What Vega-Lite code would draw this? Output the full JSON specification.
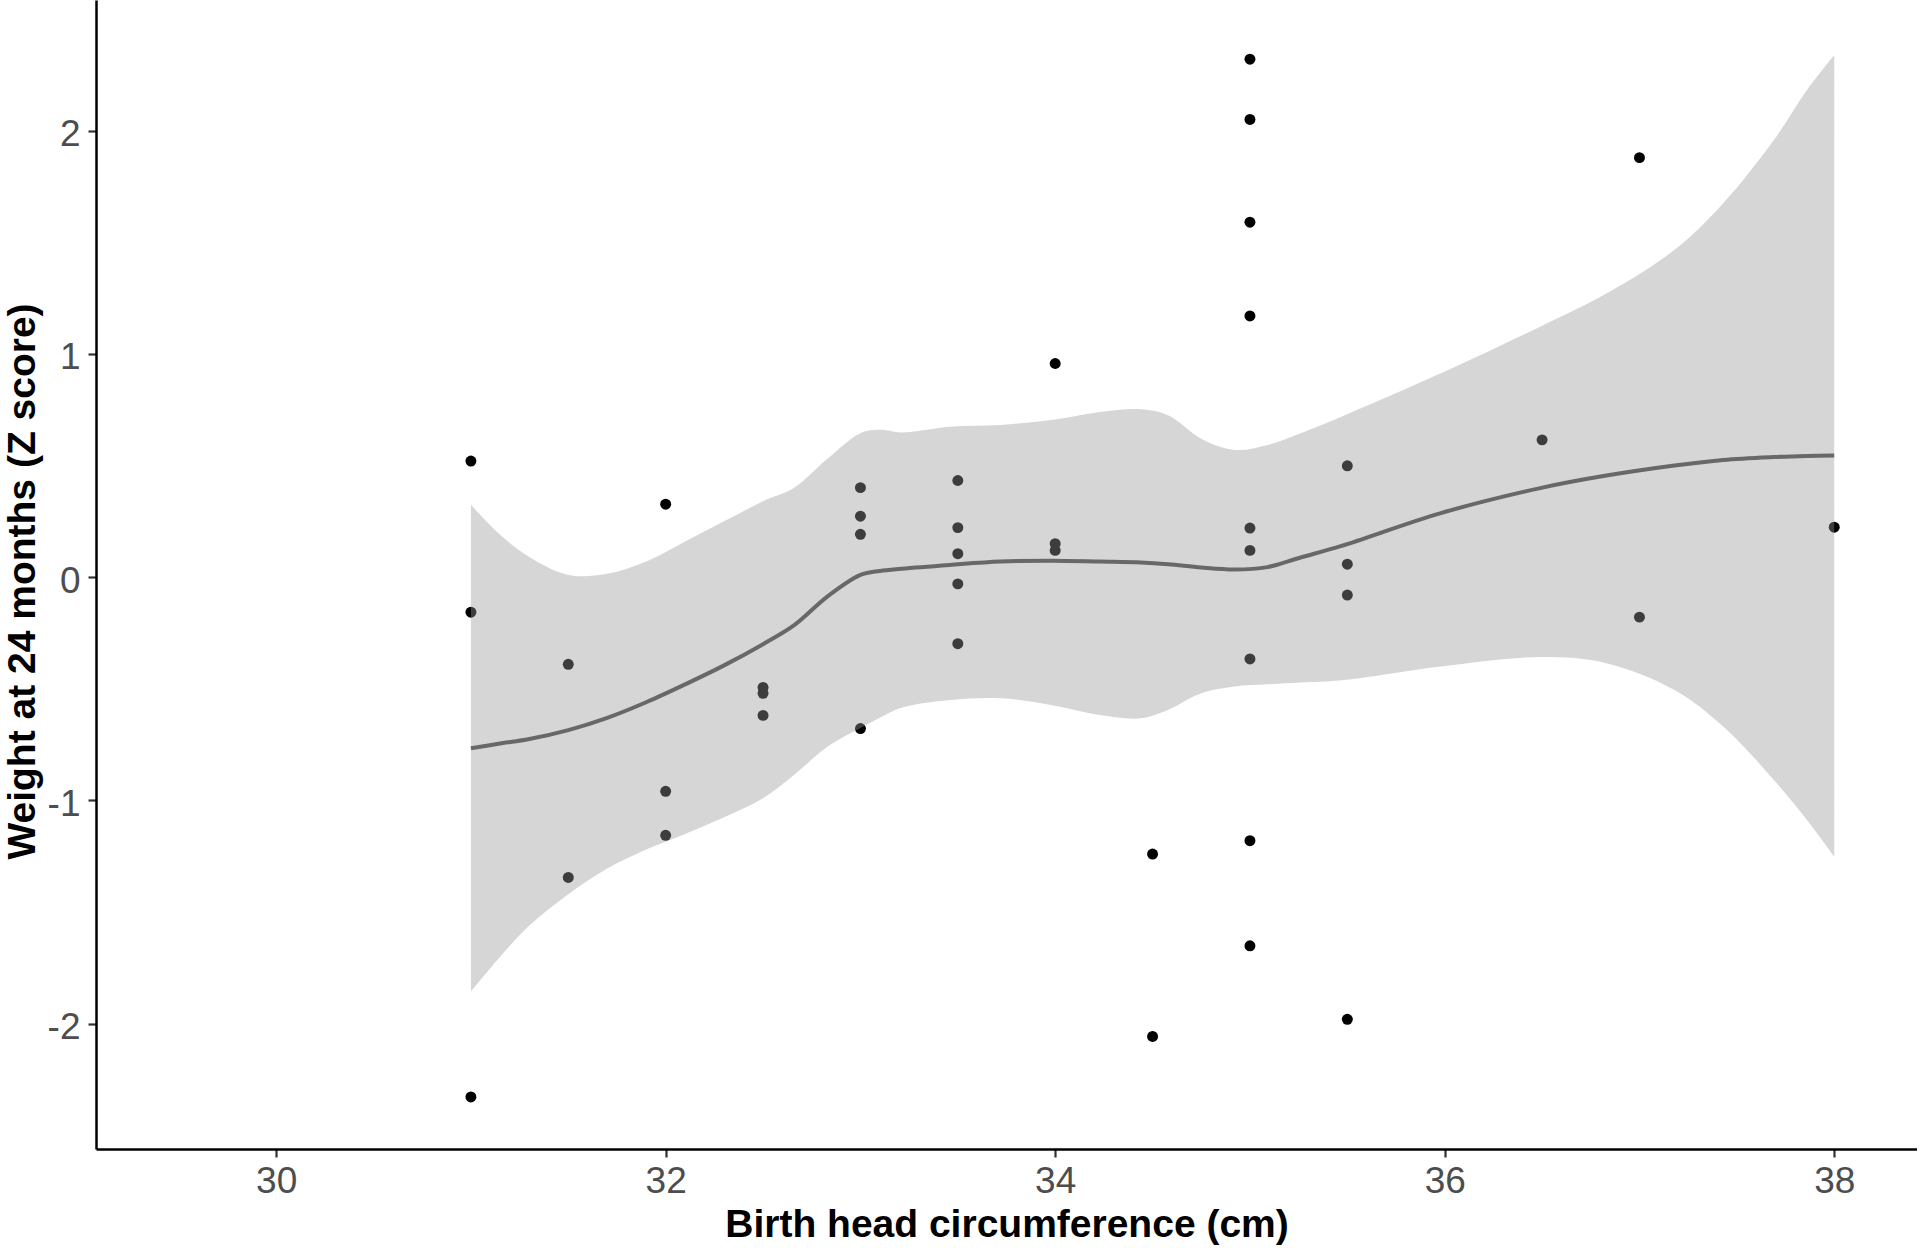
{
  "$schema": "https://vega.github.io/schema/vega-lite/v6.json",
  "autosize": {"type": "none"},
  "width": 1821,
  "height": 1149,
  "padding": {"left": 96, "top": 0, "right": 0, "bottom": 99},
  "background": "white",
  "config": {
    "view": {"stroke": null},
    "font": "Liberation Sans",
    "axis": {
      "grid": false,
      "domainColor": "#000000",
      "domainWidth": 2.5,
      "tickColor": "#333333",
      "tickWidth": 2.2,
      "tickSize": 8,
      "labelFont": "Liberation Sans",
      "labelFontSize": 37,
      "labelColor": "#4D4D4D",
      "titleFont": "Liberation Sans",
      "titleFontSize": 39,
      "titleFontWeight": "bold",
      "titleColor": "#000000"
    }
  },
  "datasets": {
    "points": [
      {"hc": 31, "wz": 0.52}, {"hc": 31, "wz": -0.157}, {"hc": 31, "wz": -2.328},
      {"hc": 31.5, "wz": -0.39}, {"hc": 31.5, "wz": -1.345},
      {"hc": 32, "wz": 0.327}, {"hc": 32, "wz": -0.959}, {"hc": 32, "wz": -1.156},
      {"hc": 32.5, "wz": -0.494}, {"hc": 32.5, "wz": -0.52}, {"hc": 32.5, "wz": -0.619},
      {"hc": 33, "wz": 0.401}, {"hc": 33, "wz": 0.273}, {"hc": 33, "wz": 0.192}, {"hc": 33, "wz": -0.678},
      {"hc": 33.5, "wz": 0.433}, {"hc": 33.5, "wz": 0.222}, {"hc": 33.5, "wz": 0.105}, {"hc": 33.5, "wz": -0.03}, {"hc": 33.5, "wz": -0.298},
      {"hc": 34, "wz": 0.957}, {"hc": 34, "wz": 0.15}, {"hc": 34, "wz": 0.12},
      {"hc": 34.5, "wz": -1.24}, {"hc": 34.5, "wz": -2.057},
      {"hc": 35, "wz": 2.32}, {"hc": 35, "wz": 2.05}, {"hc": 35, "wz": 1.59}, {"hc": 35, "wz": 1.17}, {"hc": 35, "wz": 0.22}, {"hc": 35, "wz": 0.12}, {"hc": 35, "wz": -0.366}, {"hc": 35, "wz": -1.18}, {"hc": 35, "wz": -1.651},
      {"hc": 35.5, "wz": 0.499}, {"hc": 35.5, "wz": 0.058}, {"hc": 35.5, "wz": -0.08}, {"hc": 35.5, "wz": -1.98},
      {"hc": 36.5, "wz": 0.615},
      {"hc": 37, "wz": 1.879}, {"hc": 37, "wz": -0.179},
      {"hc": 38, "wz": 0.224}
    ],
    "fit": [
      {"hc": 31.0, "fit": -0.766, "lo": -1.856, "hi": 0.324},
      {"hc": 31.15, "fit": -0.745, "lo": -1.70, "hi": 0.19},
      {"hc": 31.3, "fit": -0.725, "lo": -1.56, "hi": 0.09},
      {"hc": 31.5, "fit": -0.685, "lo": -1.42, "hi": 0.01},
      {"hc": 31.7, "fit": -0.63, "lo": -1.305, "hi": 0.015},
      {"hc": 31.9, "fit": -0.56, "lo": -1.22, "hi": 0.07},
      {"hc": 32.1, "fit": -0.48, "lo": -1.15, "hi": 0.16},
      {"hc": 32.3, "fit": -0.395, "lo": -1.075, "hi": 0.25},
      {"hc": 32.5, "fit": -0.3, "lo": -0.99, "hi": 0.34},
      {"hc": 32.66, "fit": -0.215, "lo": -0.885, "hi": 0.40},
      {"hc": 32.83, "fit": -0.087, "lo": -0.76, "hi": 0.53},
      {"hc": 33.0, "fit": 0.01, "lo": -0.676, "hi": 0.645},
      {"hc": 33.1, "fit": 0.028, "lo": -0.63, "hi": 0.66},
      {"hc": 33.21, "fit": 0.038, "lo": -0.585, "hi": 0.648},
      {"hc": 33.46, "fit": 0.055, "lo": -0.55, "hi": 0.674},
      {"hc": 33.72, "fit": 0.07, "lo": -0.542, "hi": 0.682},
      {"hc": 33.98, "fit": 0.074, "lo": -0.572, "hi": 0.704},
      {"hc": 34.23, "fit": 0.07, "lo": -0.617, "hi": 0.74},
      {"hc": 34.44, "fit": 0.066, "lo": -0.632, "hi": 0.752},
      {"hc": 34.58, "fit": 0.058, "lo": -0.594, "hi": 0.725},
      {"hc": 34.75, "fit": 0.043, "lo": -0.52, "hi": 0.62},
      {"hc": 34.92, "fit": 0.034, "lo": -0.49, "hi": 0.57},
      {"hc": 35.09, "fit": 0.045, "lo": -0.48, "hi": 0.592},
      {"hc": 35.26, "fit": 0.088, "lo": -0.472, "hi": 0.645},
      {"hc": 35.47, "fit": 0.14, "lo": -0.462, "hi": 0.719},
      {"hc": 35.98, "fit": 0.287, "lo": -0.40, "hi": 0.913},
      {"hc": 36.49, "fit": 0.399, "lo": -0.358, "hi": 1.122},
      {"hc": 36.83, "fit": 0.455, "lo": -0.385, "hi": 1.27},
      {"hc": 37.18, "fit": 0.50, "lo": -0.505, "hi": 1.466},
      {"hc": 37.43, "fit": 0.525, "lo": -0.669, "hi": 1.675},
      {"hc": 37.69, "fit": 0.538, "lo": -0.908, "hi": 1.958},
      {"hc": 37.86, "fit": 0.543, "lo": -1.087, "hi": 2.182},
      {"hc": 38.0, "fit": 0.545, "lo": -1.251, "hi": 2.339}
    ]
  },
  "layer": [
    {
      "data": {"name": "points"},
      "mark": {"type": "point", "filled": true, "shape": "circle", "size": 120, "color": "#000000", "opacity": 1},
      "encoding": {
        "x": {"field": "hc", "type": "quantitative",
              "scale": {"domain": [29.075, 38.425], "nice": false, "zero": false},
              "axis": {"title": "Birth head circumference (cm)", "values": [30, 32, 34, 36, 38],
                       "labelPadding": 6, "labelExpr": "'' + datum.value",
                       "titleBaseline": "alphabetic", "titleY": 87}},
        "y": {"field": "wz", "type": "quantitative",
              "scale": {"domain": [-2.561, 2.585], "nice": false, "zero": false},
              "axis": {"title": "Weight at 24 months (Z score)", "values": [-2, -1, 0, 1, 2],
                       "labelPadding": 8, "labelOffset": 4, "labelExpr": "'' + datum.value",
                       "titleBaseline": "alphabetic", "titleX": -62, "titleY": 581}}
      }
    },
    {
      "data": {"name": "fit"},
      "mark": {"type": "area", "color": "#999999", "opacity": 0.4, "interpolate": "catmull-rom"},
      "encoding": {
        "x": {"field": "hc", "type": "quantitative", "title": "Birth head circumference (cm)"},
        "y": {"field": "hi", "type": "quantitative", "title": "Weight at 24 months (Z score)"},
        "y2": {"field": "lo"}
      }
    },
    {
      "data": {"name": "fit"},
      "mark": {"type": "line", "color": "#686868", "strokeWidth": 4, "interpolate": "catmull-rom"},
      "encoding": {
        "x": {"field": "hc", "type": "quantitative", "title": "Birth head circumference (cm)"},
        "y": {"field": "fit", "type": "quantitative", "title": "Weight at 24 months (Z score)"}
      }
    }
  ]
}
